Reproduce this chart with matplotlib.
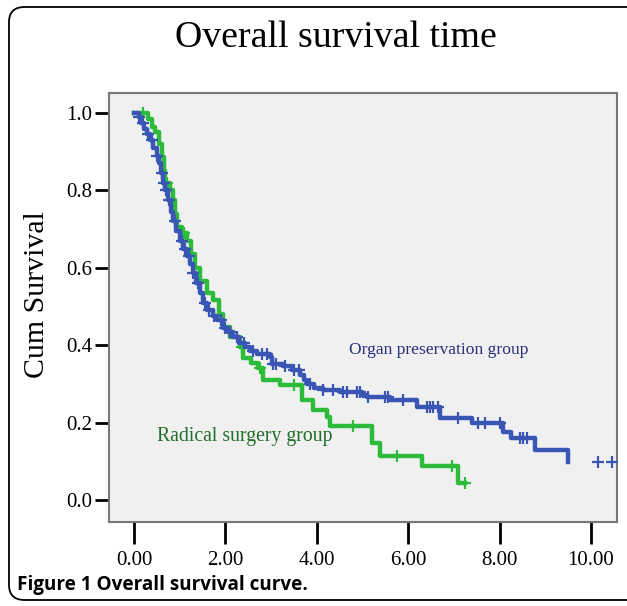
import numpy as np
import matplotlib.pyplot as plt
from matplotlib.patches import FancyBboxPatch

# Kaplan-Meier step points (time in years, cumulative survival)
organ_times = [0.00, 0.10, 0.15, 0.22, 0.28, 0.35, 0.42, 0.50, 0.55, 0.60, 0.63, 0.68,
               0.74, 0.80, 0.85, 0.92, 1.00, 1.08, 1.16, 1.22, 1.29, 1.36, 1.44, 1.50,
               1.60, 1.72, 1.82, 1.95, 2.05, 2.17, 2.30, 2.42, 2.54, 2.70, 2.98, 3.02,
               3.25, 3.45, 3.63, 3.72, 3.79, 3.95, 4.14, 4.50, 5.00, 5.10, 5.60, 6.19,
               6.70, 7.40, 8.07, 8.25, 8.77, 9.50]
organ_surv = [1.000, 0.990, 0.975, 0.960, 0.945, 0.930, 0.910, 0.890, 0.870, 0.845, 0.820, 0.800,
              0.775, 0.745, 0.720, 0.695, 0.670, 0.650, 0.630, 0.610, 0.587, 0.560, 0.535, 0.510,
              0.490, 0.475, 0.465, 0.445, 0.435, 0.420, 0.405, 0.395, 0.385, 0.378, 0.370, 0.352,
              0.345, 0.335, 0.323, 0.310, 0.300, 0.290, 0.283, 0.278, 0.272, 0.266, 0.258, 0.240,
              0.212, 0.198, 0.175, 0.160, 0.129, 0.098]
organ_censored = [0.12, 0.20, 0.30, 0.40, 0.50, 0.62, 0.66, 0.70, 0.76, 0.90, 1.05, 1.12,
                  1.20, 1.30, 1.40, 1.55, 1.65, 1.75, 1.90, 2.00, 2.10, 2.25, 2.40, 2.60,
                  2.80, 2.90, 3.05, 3.10, 3.30, 3.50, 3.60, 3.85, 4.14, 4.35, 4.57, 4.66,
                  4.88, 4.95, 5.12, 5.49, 5.56, 5.89, 6.41, 6.48, 6.54, 6.65, 7.09, 7.53,
                  7.68, 8.00, 8.45, 8.51, 8.60, 10.15, 10.46]

radical_times = [0.00, 0.31, 0.40, 0.46, 0.55, 0.61, 0.65, 0.68, 0.78, 0.85, 0.90, 0.94,
                 1.05, 1.16, 1.25, 1.33, 1.45, 1.60, 1.73, 1.85, 1.95, 2.10, 2.32, 2.39,
                 2.55, 2.71, 2.82, 3.19, 3.68, 3.92, 4.22, 4.29, 5.20, 5.38, 6.30, 7.10, 7.24]
radical_surv = [1.000, 0.985, 0.965, 0.950, 0.920, 0.886, 0.850, 0.820, 0.800, 0.775, 0.740, 0.705,
                0.690, 0.670, 0.635, 0.600, 0.565, 0.535, 0.517, 0.480, 0.447, 0.420, 0.395, 0.367,
                0.355, 0.341, 0.310, 0.297, 0.258, 0.232, 0.215, 0.190, 0.147, 0.114, 0.088, 0.045, 0.045]
radical_censored = [0.20, 0.72, 1.10, 2.37, 2.75, 3.50, 4.80, 5.75, 6.96, 7.24]

x_ticks = [0, 2, 4, 6, 8, 10]
y_ticks = [0.0, 0.2, 0.4, 0.6, 0.8, 1.0]

blue = "#3a56b4"
green = "#2dbb3c"


def censor_levels(times, surv, censored):
    # survival level at each censoring time, taken from the step curve
    idx = np.searchsorted(times, censored, side="right") - 1
    return np.array(surv)[idx]


fig = plt.figure(figsize=(6.27, 6.06), dpi=100)

# rounded frame around the whole figure
frame = FancyBboxPatch((9 / 627, 6 / 606), 640 / 627, 593 / 606,
                       boxstyle="round,pad=0,rounding_size=0.025",
                       transform=fig.transFigure, facecolor="none",
                       edgecolor="black", linewidth=1.3, clip_on=False)
fig.patches.append(frame)

ax = fig.add_axes([109 / 627, 1 - 522 / 606, 508 / 627, 429 / 606])
ax.set_facecolor("#f0f0f0")

ax.step(organ_times, organ_surv, where="post", color=blue, linewidth=3.2, zorder=3)
ax.plot(organ_censored, censor_levels(organ_times, organ_surv, organ_censored),
        linestyle="none", marker="+", markersize=9, markeredgewidth=1.6, color=blue, zorder=4)

ax.step(radical_times, radical_surv, where="post", color=green, linewidth=3.2, zorder=2)
ax.plot(radical_censored, censor_levels(radical_times, radical_surv, radical_censored),
        linestyle="none", marker="+", markersize=9, markeredgewidth=1.6, color=green, zorder=2)

ax.text(4.70, 0.388, "Organ preservation group", color="#2b2f7c", fontsize=12.6,
        family="Liberation Serif", va="center", ha="left")
ax.text(0.50, 0.165, "Radical surgery group", color="#1f6e2b", fontsize=14.2,
        family="Liberation Serif", va="center", ha="left")

ax.set_xlim(-0.547, 10.57)
ax.set_ylim(-0.057, 1.052)
ax.set_xticks(x_ticks)
ax.set_xticklabels([f"{t:.2f}" for t in x_ticks], family="Liberation Serif", fontsize=15)
ax.set_yticks(y_ticks)
ax.set_yticklabels([f"{t:.1f}" for t in y_ticks], family="Liberation Serif", fontsize=15)
ax.tick_params(axis="x", length=16, width=2, pad=5, direction="out")
ax.tick_params(axis="y", length=10, width=2, pad=2, direction="out")

for spine in ax.spines.values():
    spine.set_color("#777777")
    spine.set_linewidth(1.5)

fig.text(37 / 627, 1 - 295 / 606, "Cum Survival", family="Liberation Serif",
         fontsize=21.5, rotation=90, ha="center", va="center")

fig.text(336 / 627, 1 - 38 / 606, "Overall survival time", family="Liberation Serif",
         fontsize=27.3, ha="center", va="center")

fig.text(17 / 627, 1 - 585 / 606, "Figure 1 Overall survival curve.", family="Open Sans",
         fontweight="bold", fontsize=13.6, ha="left", va="center")

fig.savefig("out.png", dpi=100)
